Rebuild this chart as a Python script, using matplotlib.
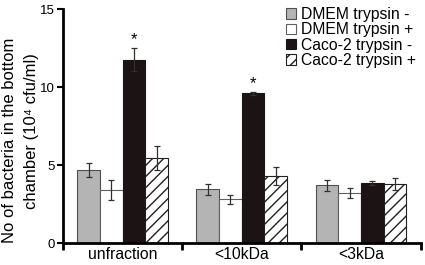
import matplotlib.pyplot as plt
import numpy as np

plt.rcParams['font.family'] = ['Liberation Sans', 'DejaVu Sans']

groups = ['unfraction', '<10kDa', '<3kDa']
series = ['DMEM trypsin -', 'DMEM trypsin +', 'Caco-2 trypsin -', 'Caco-2 trypsin +']
dmem_minus = [4.65, 3.45, 3.7]
dmem_plus = [3.4, 2.8, 3.2]
caco_minus = [11.75, 9.6, 3.85]
caco_plus = [5.45, 4.3, 3.8]
err_dmem_minus = [0.45, 0.35, 0.37]
err_dmem_plus = [0.65, 0.3, 0.3]
err_caco_minus = [0.75, 0.1, 0.12]
err_caco_plus = [0.75, 0.6, 0.38]
stars = ['*', '*', '']

values = [dmem_minus, dmem_plus, caco_minus, caco_plus]
errors = [err_dmem_minus, err_dmem_plus, err_caco_minus, err_caco_plus]
faces = ['#b4b4b4', 'white', '#1c1414', 'white']
edges = ['#505050', '#606060', '#1c1414', '#202020']
hatches = [None, None, None, '///']

fig = plt.figure(figsize=(4.25, 2.65), dpi=100)
ax = fig.add_axes([0.148, 0.083, 0.842, 0.883])

x = np.arange(len(groups))
w = 0.19
for i in range(4):
    pos = x + (i - 1.5) * w
    ax.bar(pos, values[i], w, color=faces[i], edgecolor=edges[i], linewidth=0.8,
           hatch=hatches[i], label=series[i], zorder=2)
    ax.errorbar(pos, values[i], yerr=errors[i], fmt='none', ecolor='#303030',
                elinewidth=0.9, capsize=2.5, capthick=0.9, zorder=3)

for j, s in enumerate(stars):
    if s:
        pos = x[j] + 0.5 * w
        ax.text(pos, caco_minus[j] + err_caco_minus[j] + 0.05, s, ha='center',
                va='bottom', fontsize=12)

ax.set_xlim(-0.5, 2.5)
ax.set_ylim(0, 15)
ax.set_yticks([0, 5, 10, 15])
ax.set_xticks(x)
ax.set_xticklabels(groups, fontsize=11.3)
ax.set_xticks(np.arange(-0.5, 3.0, 1.0), minor=True)
ax.tick_params(axis='x', which='major', length=0, pad=3)
ax.tick_params(axis='x', which='minor', length=5, width=2, direction='out')
ax.tick_params(axis='y', length=4, width=1.5, labelsize=9.5, pad=1.5)
for side in ['top', 'right']:
    ax.spines[side].set_visible(False)
for side in ['left', 'bottom']:
    ax.spines[side].set_linewidth(2)

# y label, two lines placed separately
fig.text(0.022, 0.472, 'No of bacteria in the bottom', rotation=90,
         ha='center', va='center', fontsize=12)
fig.text(0.075, 0.506, 'chamber (10⁴ cfu/ml)', rotation=90,
         ha='center', va='center', fontsize=12)

ax.legend(loc='upper left', bbox_to_anchor=(286 / 425, 1 - 7 / 265),
          bbox_transform=fig.transFigure, frameon=False, fontsize=11.3,
          handlelength=0.65, handleheight=0.65, handletextpad=0.3,
          labelspacing=0.02, borderpad=0, borderaxespad=0)

fig.savefig('out.png', dpi=100)
